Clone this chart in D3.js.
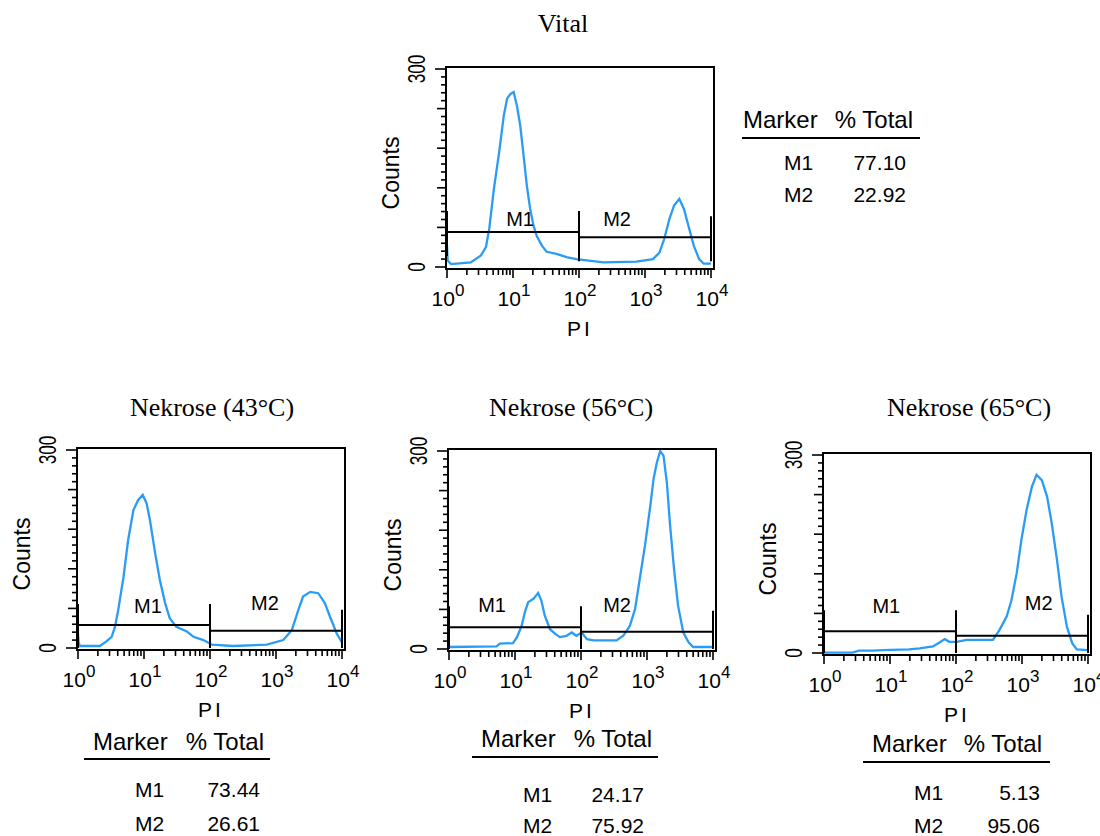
<!DOCTYPE html>
<html><head><meta charset="utf-8">
<script src="https://cdn.jsdelivr.net/npm/d3@7"></script>
<style>body{margin:0;background:#fff}svg{display:block}</style>
</head><body>
<svg id="chart" width="1100" height="836"></svg>
<script>
// ---------- data ----------
const panelTitles = ["Vital", "Nekrose (43°C)", "Nekrose (56°C)", "Nekrose (65°C)"];

// histogram traces: x as log10(PI) exponent, y as counts
const vitalLogPI = [0, 0.01, 0.06, 0.36, 0.51, 0.59, 0.64, 0.71, 0.79, 0.86, 0.91, 0.96, 1.01, 1.06, 1.11, 1.16, 1.21, 1.26, 1.31, 1.36, 1.44, 1.51, 1.66, 1.81, 1.96, 2.12, 2.37, 2.87, 3.12, 3.22, 3.29, 3.37, 3.44, 3.52, 3.59, 3.67, 3.74, 3.82, 3.89, 4.0];
const vitalCounts = [32, 10, 4.5, 7, 17, 30, 58, 118, 174, 229, 255, 262, 265, 244, 214, 169, 123, 88, 63, 47, 32, 23, 20, 15, 12, 10, 7, 8, 12, 22, 42, 73, 93, 103, 88, 58, 32, 12, 5, 5];

const n43LogPI = [0, 0.01, 0.03, 0.33, 0.43, 0.51, 0.56, 0.61, 0.69, 0.76, 0.84, 0.91, 0.98, 1.04, 1.09, 1.17, 1.24, 1.32, 1.39, 1.49, 1.65, 1.75, 1.90, 2.03, 2.35, 2.86, 3.11, 3.24, 3.34, 3.41, 3.52, 3.64, 3.74, 3.82, 3.92, 3.99, 4.0];
const n43Counts = [22, 8, 3, 3, 10, 17, 32, 58, 108, 164, 209, 224, 232, 219, 194, 143, 103, 68, 45, 32, 25, 17, 12, 5, 3, 5, 12, 27, 58, 78, 85, 83, 68, 47, 22, 10, 8];

const n56LogPI = [0, 0.72, 0.77, 0.97, 1.03, 1.10, 1.15, 1.20, 1.28, 1.35, 1.40, 1.45, 1.53, 1.61, 1.68, 1.78, 1.86, 1.93, 2.01, 2.09, 2.19, 2.54, 2.64, 2.74, 2.82, 2.89, 2.97, 3.05, 3.10, 3.15, 3.20, 3.25, 3.30, 3.35, 3.41, 3.47, 3.55, 3.63, 3.70, 4.0];
const n56Counts = [3, 4, 8, 9, 18, 35, 56, 71, 76, 85, 73, 51, 30, 23, 18, 20, 25, 20, 25, 15, 13, 13, 20, 35, 61, 106, 157, 217, 258, 283, 300, 293, 253, 187, 121, 66, 25, 10, 3, 3];

const n65LogPI = [0, 0.43, 0.53, 0.74, 0.89, 1.29, 1.45, 1.65, 1.75, 1.83, 1.90, 2.01, 2.16, 2.56, 2.66, 2.77, 2.84, 2.92, 2.99, 3.07, 3.15, 3.22, 3.30, 3.38, 3.45, 3.53, 3.60, 3.68, 3.76, 3.83, 4.0];
const n65Counts = [0.5, 0.5, 3.5, 3.5, 4.5, 5.5, 7, 10, 16, 21, 17, 17, 20, 20, 35, 56, 80, 121, 171, 217, 252, 270, 262, 237, 197, 141, 85, 40, 15, 5.5, 4.5];

// marker gates
const markerNames = ["M1", "M2"];
const gateRanges = [[1, 100], [100, 10000]];
const vitalGateLevels = [53, 45];
const n43GateLevels = [35, 26];
const n56GateLevels = [33, 26];
const n65GateLevels = [33, 26];
// marker label anchor (PI, counts)
const vitalLabelPI = [12.8, 378];   const vitalLabelCounts = [62, 62];
const n43LabelPI = [11.5, 680];     const n43LabelCounts = [53, 58];
const n56LabelPI = [4.5, 352];      const n56LabelCounts = [56, 56];
const n65LabelPI = [8.8, 1790];     const n65LabelCounts = [61, 65];

// % total tables
const tableHeader = ["Marker", "% Total"];
const vitalPct = ["77.10", "22.92"];
const n43Pct = ["73.44", "26.61"];
const n56Pct = ["24.17", "75.92"];
const n65Pct = ["5.13", "95.06"];

// axes
const xTickExponents = [0, 1, 2, 3, 4];
const yTickLabels = [0, 300];
const xAxisTitle = "PI";
const yAxisTitle = "Counts";

// ---------- layout ----------
const svg = d3.select("#chart");
const BLUE = "#2a9cf5";
const FW = 268, FH = 202;

const panels = [
  { title: panelTitles[0], logPI: vitalLogPI, counts: vitalCounts, levels: vitalGateLevels, lpi: vitalLabelPI, lc: vitalLabelCounts, pct: vitalPct,
    left: 446, top: 67, titleX: 563, titleY: 32,
    table: { x: 743, y: 128, xEnd: 913, lineY: 138, lineX0: 742, lineX1: 920, rowX: 784, valX: 906, rowY: [170, 202] } },
  { title: panelTitles[1], logPI: n43LogPI, counts: n43Counts, levels: n43GateLevels, lpi: n43LabelPI, lc: n43LabelCounts, pct: n43Pct,
    left: 77, top: 448, titleX: 212, titleY: 416,
    table: { x: 93, y: 750, xEnd: 264, lineY: 759, lineX0: 84, lineX1: 270, rowX: 135, valX: 260, rowY: [797, 831] } },
  { title: panelTitles[2], logPI: n56LogPI, counts: n56Counts, levels: n56GateLevels, lpi: n56LabelPI, lc: n56LabelCounts, pct: n56Pct,
    left: 448, top: 449, titleX: 571, titleY: 416,
    table: { x: 481, y: 747, xEnd: 652, lineY: 757, lineX0: 472, lineX1: 658, rowX: 523, valX: 644, rowY: [802, 833] } },
  { title: panelTitles[3], logPI: n65LogPI, counts: n65Counts, levels: n65GateLevels, lpi: n65LabelPI, lc: n65LabelCounts, pct: n65Pct,
    left: 823, top: 453, titleX: 969, titleY: 416,
    table: { x: 872, y: 752, xEnd: 1042, lineY: 762, lineX0: 863, lineX1: 1050, rowX: 914, valX: 1040, rowY: [800, 833] } }
];

const SANS = "Arial, 'Liberation Sans', Helvetica, sans-serif";
const SERIF = "'Times New Roman', 'Liberation Serif', Times, serif";

panels.forEach(p => {
  const g = svg.append("g");
  const x = d3.scaleLog().domain([1, 10000]).range([p.left + 1, p.left + 265]);
  const y = d3.scaleLinear().domain([0, 300]).range([p.top + 200, p.top + 2]);
  const bottom = p.top + FH;

  // title
  g.append("text").attr("x", p.titleX).attr("y", p.titleY)
    .attr("text-anchor", "middle").attr("font-family", SERIF).attr("font-size", 26)
    .text(p.title);

  // y ticks (major every 60, minor every 12)
  const yTicks = d3.range(0, 301, 12);
  g.selectAll(".yt").data(yTicks).enter().append("line")
    .attr("x1", d => p.left - (d % 300 === 0 ? 11 : d % 60 === 0 ? 9 : 5))
    .attr("x2", p.left)
    .attr("y1", d => y(d)).attr("y2", d => y(d))
    .attr("stroke", "#000").attr("stroke-width", 1.6);

  // x ticks (log minor)
  const xTicks = [];
  for (let d = 0; d < 4; d++) for (let k = 1; k <= 9; k++) xTicks.push({ v: k * Math.pow(10, d), major: k === 1 });
  xTicks.push({ v: 10000, major: true });
  g.selectAll(".xt").data(xTicks).enter().append("line")
    .attr("x1", d => x(d.v)).attr("x2", d => x(d.v))
    .attr("y1", bottom).attr("y2", d => bottom + (d.major ? 9 : 6))
    .attr("stroke", "#000").attr("stroke-width", 1.6);

  // x tick labels 10^n
  xTickExponents.forEach(e => {
    const t = g.append("text").attr("x", x(Math.pow(10, e)) + 1).attr("y", bottom + 37)
      .attr("text-anchor", "middle").attr("font-family", SANS).attr("font-size", 21);
    t.append("tspan").text("10");
    t.append("tspan").attr("dy", -10).attr("font-size", 17).text(String(e));
  });

  // y tick labels, rotated
  yTickLabels.forEach(v => {
    g.append("text")
      .attr("transform", `translate(${p.left - 21},${y(v)}) rotate(-90) scale(0.75,1)`)
      .attr("text-anchor", "middle").attr("font-family", SANS).attr("font-size", 23)
      .text(v);
  });

  // axis titles
  g.append("text")
    .attr("transform", `translate(${p.left - 47},${p.top + FH / 2 + 5}) rotate(-90)`)
    .attr("text-anchor", "middle").attr("font-family", SANS).attr("font-size", 23)
    .text(yAxisTitle);
  g.append("text").attr("x", p.left + FW / 2).attr("y", bottom + 67)
    .attr("text-anchor", "middle").attr("font-family", SANS).attr("font-size", 21)
    .attr("letter-spacing", 3).text(xAxisTitle);

  // histogram
  const pts = p.logPI.map((e, i) => [Math.pow(10, e), p.counts[i]]);
  g.append("path").datum(pts)
    .attr("d", d3.line().x(d => x(d[0])).y(d => y(d[1])))
    .attr("fill", "none").attr("stroke", BLUE).attr("stroke-width", 2.3);

  // frame
  g.append("rect").attr("x", p.left).attr("y", p.top).attr("width", FW).attr("height", FH)
    .attr("fill", "none").attr("stroke", "#000").attr("stroke-width", 2);

  // gates
  gateRanges.forEach((r, i) => {
    const ly = y(p.levels[i]);
    const y0 = y(0);
    g.append("line").attr("x1", x(r[0])).attr("x2", x(r[1])).attr("y1", ly).attr("y2", ly)
      .attr("stroke", "#000").attr("stroke-width", 2);
    r.forEach(v => {
      g.append("line").attr("x1", x(v)).attr("x2", x(v))
        .attr("y1", ly - 21).attr("y2", Math.min(ly + 24, y0))
        .attr("stroke", "#000").attr("stroke-width", 2);
    });
    g.append("text").attr("x", x(p.lpi[i])).attr("y", y(p.lc[i]))
      .attr("text-anchor", "middle").attr("font-family", SANS).attr("font-size", 20)
      .text(markerNames[i]);
  });

  // table
  const tb = p.table;
  g.append("text").attr("x", tb.x).attr("y", tb.y).attr("font-family", SANS).attr("font-size", 24)
    .text(tableHeader[0]);
  g.append("text").attr("x", tb.xEnd).attr("y", tb.y).attr("text-anchor", "end")
    .attr("font-family", SANS).attr("font-size", 24).text(tableHeader[1]);
  g.append("line").attr("x1", tb.lineX0).attr("x2", tb.lineX1).attr("y1", tb.lineY).attr("y2", tb.lineY)
    .attr("stroke", "#000").attr("stroke-width", 2);
  markerNames.forEach((m, i) => {
    g.append("text").attr("x", tb.rowX).attr("y", tb.rowY[i]).attr("font-family", SANS).attr("font-size", 21).text(m);
    g.append("text").attr("x", tb.valX).attr("y", tb.rowY[i]).attr("text-anchor", "end")
      .attr("font-family", SANS).attr("font-size", 21).text(p.pct[i]);
  });
});
</script>
</body></html>
